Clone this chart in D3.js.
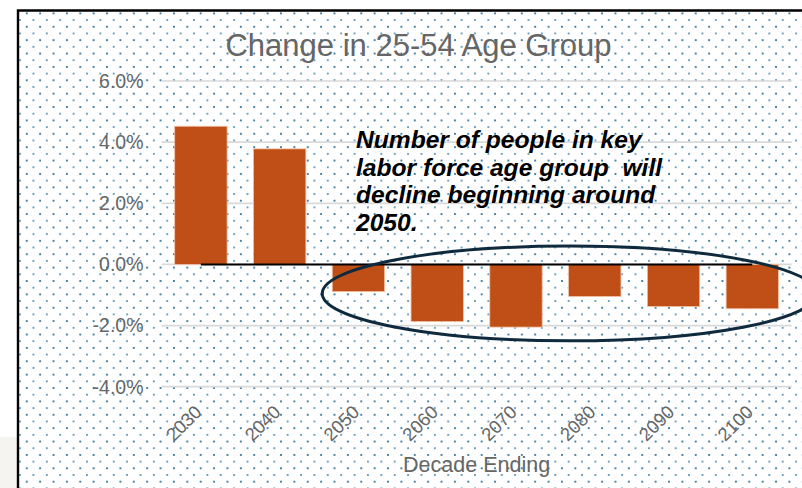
<!DOCTYPE html>
<html>
<head>
<meta charset="utf-8">
<script src="https://cdn.jsdelivr.net/npm/d3@7"></script>
<style>
  html, body { margin: 0; padding: 0; background: #ffffff; }
  svg { display: block; }
  text { font-family: "Liberation Sans", Arial, sans-serif; }
</style>
</head>
<body>
<svg id="chart" width="802" height="488"></svg>
<script>
// ---- data ----
const decades = ["2030", "2040", "2050", "2060", "2070", "2080", "2090", "2100"];
const values = [4.52, 3.78, -0.89, -1.87, -2.05, -1.05, -1.38, -1.45];
const yTicks = [-4, -2, 0, 2, 4, 6];
const titleText = "Change in 25-54 Age Group";
const xAxisTitle = "Decade Ending";
const noteLines = ["Number of people in key", "labor force age group  will", "decline beginning around", "2050."];

const W = 802, H = 488;
const svg = d3.select("#chart");

// background pieces
svg.append("rect").attr("x", 0).attr("y", 437).attr("width", 18).attr("height", H - 437).attr("fill", "#f5f4f0");

const defs = svg.append("defs");
const s = 13.38;
const pat = defs.append("pattern").attr("id", "dots").attr("patternUnits", "userSpaceOnUse")
  .attr("width", s).attr("height", s);
[[0,0],[s,0],[0,s],[s,s]].forEach(([cx,cy]) =>
  pat.append("circle").attr("cx", cx).attr("cy", cy).attr("r", 1.05).attr("fill", "#16618c"));
pat.append("circle").attr("cx", s/2).attr("cy", s/2).attr("r", 1.0).attr("fill", "#2f7ba5").attr("opacity", 0.9);

svg.append("rect").attr("x", 19).attr("y", 11.5).attr("width", W - 19).attr("height", H - 11.5).attr("fill", "url(#dots)");

// frame
svg.append("path").attr("d", `M18,${H} L18,10.5 L${W},10.5`).attr("fill", "none")
  .attr("stroke", "#000").attr("stroke-width", 2.4);

// scales
const x = d3.scaleBand().domain(decades).range([161.5, 791.7]).paddingInner(0.335).paddingOuter(0.1675);
const y = d3.scaleLinear().domain([-4, 6]).range([386.7, 81]);

// gridlines
svg.append("g").selectAll("line").data(yTicks).join("line")
  .attr("x1", x.range()[0]).attr("x2", x.range()[1])
  .attr("y1", d => y(d)).attr("y2", d => y(d))
  .attr("stroke", "#d9d9d9").attr("stroke-width", 1.7);

// y tick labels
const fmt = d3.format(".1f");
svg.append("g").selectAll("text").data(yTicks).join("text")
  .attr("x", 143.5).attr("y", d => y(d)).attr("dy", "0.35em")
  .attr("text-anchor", "end").attr("font-size", 19.5).attr("fill", "#666666")
  .text(d => fmt(d).replace("\u2212", "-") + "%");

// bars
svg.append("g").selectAll("rect").data(values).join("rect")
  .attr("x", (d, i) => x(decades[i]))
  .attr("width", x.bandwidth())
  .attr("y", d => y(Math.max(0, d)))
  .attr("height", d => Math.abs(y(d) - y(0)))
  .attr("fill", "#bf4f16")
  .attr("stroke", "#f3c3a6").attr("stroke-width", 0.8);

// zero line
svg.append("line")
  .attr("x1", x(decades[0]) + x.bandwidth() / 2)
  .attr("x2", x(decades[decades.length - 1]) + x.bandwidth() / 2)
  .attr("y1", y(0)).attr("y2", y(0))
  .attr("stroke", "#000").attr("stroke-width", 2);

// x tick labels
svg.append("g").selectAll("text").data(decades).join("text")
  .attr("transform", d => `translate(${x(d) + x.bandwidth() / 2 + 2},${y(-4) + 26.5}) rotate(-45)`)
  .attr("text-anchor", "end").attr("font-size", 18.5).attr("fill", "#666666")
  .text(d => d);

// axis title
svg.append("text").attr("x", (x.range()[0] + x.range()[1]) / 2).attr("y", 472)
  .attr("text-anchor", "middle").attr("font-size", 21.5).attr("fill", "#666666")
  .text(xAxisTitle);

// chart title
svg.append("text").attr("x", 418.5).attr("y", 56)
  .attr("text-anchor", "middle").attr("font-size", 31).attr("fill", "#666666")
  .text(titleText);

// annotation text
const note = svg.append("text").attr("font-size", 24.6).attr("font-weight", "bold")
  .attr("font-style", "italic").attr("fill", "#000").attr("xml:space", "preserve");
noteLines.forEach((t, i) => {
  note.append("tspan").attr("x", 356).attr("y", 148 + i * 27.7).text(t);
});

// ellipse annotation
const exL = x(decades[2]) - 10, exR = x.range()[1] + 25;
svg.append("ellipse")
  .attr("cx", (exL + exR) / 2).attr("cy", y(-0.95))
  .attr("rx", (exR - exL) / 2).attr("ry", y(-2.5) - y(-0.95))
  .attr("fill", "none").attr("stroke", "#0f2a3d").attr("stroke-width", 3);
</script>
</body>
</html>
